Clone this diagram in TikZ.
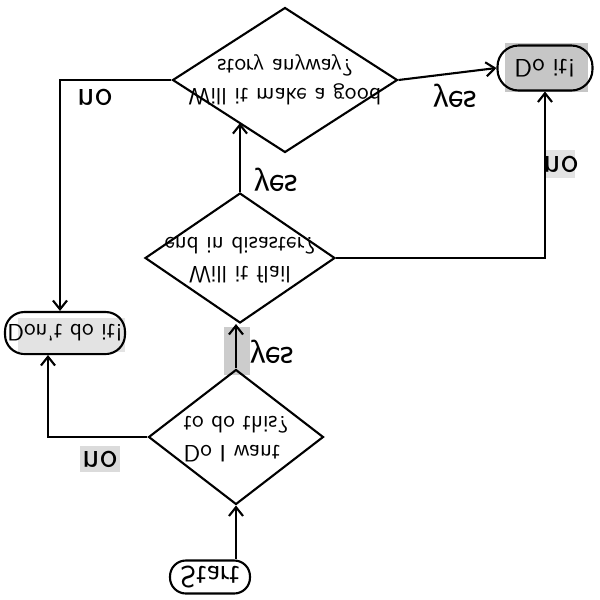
\documentclass[tikz,border=0pt]{standalone}
\usepackage{graphicx}
\usetikzlibrary{shapes.geometric,arrows.meta,intersections,positioning}
\newcommand{\upsd}[1]{\scalebox{1}[-1]{#1}}

\begin{document}
\begin{tikzpicture}[
    x=0.02cm, y=-0.02cm,
    every node/.append style={font=\sffamily\fontsize{13.5pt}{17pt}\selectfont},  % handwriting, seen upside down
    line width=1.2pt, >={Straight Barb[length=5pt,width=8pt]},
    decision/.style={draw, diamond, inner sep=0pt, line width=1.2pt},
    terminal/.style={draw, rounded corners=#1, line width=1.2pt, inner sep=0pt},
    answer/.style={inner sep=1pt, font=\sffamily\huge},
]
\useasboundingbox (0,0) rectangle (600,600);

% grey scan marks
\fill[gray!45] (505,43) rectangle (588,92);
\fill[gray!22] (18,318) rectangle (125,352);
\fill[gray!40] (224,327) rectangle (250,375);
\fill[gray!22] (546,150) rectangle (575,178);
\fill[gray!28] (80,446) rectangle (120,472);

\node[terminal=9pt, minimum width=1.6cm, minimum height=0.66cm, font=\sffamily\LARGE] (start) at (210,577) {\upsd{Start}};
\node[decision, minimum width=3.5cm, minimum height=2.7cm,
      label={center:\upsd{\begin{tabular}{@{}l@{}}Do I want\\to do this?\end{tabular}}}] (q1) at (236,437) {};
\node[decision, minimum width=3.8cm, minimum height=2.6cm,
      label={center:\upsd{\begin{tabular}{@{}c@{}}Will it flail\\end in disaster?\end{tabular}}}] (q2) at (240,258) {};
\node[decision, name path=q3edge, minimum width=4.5cm, minimum height=2.9cm,
      label={center:\upsd{\begin{tabular}{@{}c@{}}Will it make a good\\story anyway?\end{tabular}}}] (q3) at (285,80) {};
\node[terminal=12pt, minimum width=1.9cm, minimum height=0.9cm, font=\sffamily\Large] (doit) at (545,68) {\upsd{Do it!}};
\node[terminal=11pt, minimum width=2.4cm, minimum height=0.84cm] (dont) at (65,333) {\upsd{Don't do it!}};

\draw[->] (start.north -| q1.south) -- (q1.south);
\draw[->] (q1.north) -- (q1.north |- q2.south);
\path[name path=q2up] (q2.north) -- ++(0,-160);
\draw[->, name intersections={of=q2up and q3edge, sort by=q2up, by=q3hit}] (q2.north) -- (q3hit);
\draw[->] (q3.east) -- (doit.west);
\draw[->] (q2.east) -| (doit.south);
\draw[->] (q3.west) -| ([xshift=-0.1cm]dont.north);
\draw[->] (q1.west) -| ([xshift=-0.34cm]dont.south);

\node[answer] (yes1) at (272,352) {\upsd{yes}};
\node[answer] (yes2) at (276,180) {\upsd{yes}};
\node[answer] (yes3) at (455,96) {\upsd{yes}};
\node[answer] (no1) at (95,97) {\upsd{no}};
\node[answer] (no2) at (561,164) {\upsd{no}};
\node[answer] (no3) at (100,459) {\upsd{no}};
\end{tikzpicture}
\end{document}
